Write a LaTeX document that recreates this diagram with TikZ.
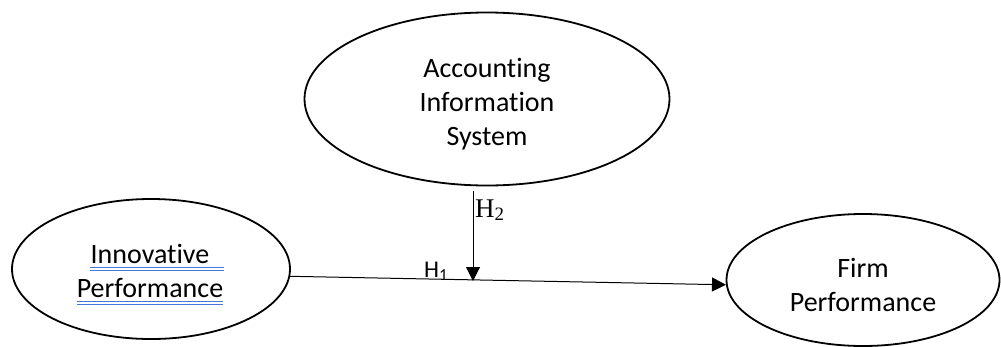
\documentclass[tikz,border=0pt]{standalone}
\usepackage{fontspec}
\setmainfont[RawFeature={-liga;-dlig;-clig}]{Carlito}
\newfontfamily\serifH{Liberation Serif}
\usetikzlibrary{shapes.geometric,arrows.meta}
\definecolor{ulblue}{RGB}{70,120,220}
\newcommand\dn{\rule{0pt}{30pt}}
\tikzset{
  construct/.style={ellipse, draw=black, line width=1.8pt, inner sep=0pt, align=center,
    font=\fontsize{28pt}{34pt}\selectfont},
  word/.style={inner sep=0pt, anchor=base, font=\fontsize{28pt}{34pt}\selectfont},
  uline/.style={draw=ulblue, line width=1pt},
  arr/.style={line width=1pt, -{Triangle[length=14pt,width=14pt]}},
  hlab/.style={inner sep=0pt, anchor=base west}
}
\begin{document}
\begin{tikzpicture}[x=1pt,y=1pt]
\useasboundingbox (0,0) rectangle (1001,-346);
\node[construct, minimum width=278pt, minimum height=140pt] (inn) at (151,-269) {};
\node[word] (w1) at (150,-263) {Innovative};
\node[word] (w2) at (150,-297) {Performance};
\draw[uline] ([yshift=-4.5pt]w1.base west) -- ([xshift=14pt,yshift=-4.5pt]w1.base east);
\draw[uline] ([yshift=-7pt]w1.base west) -- ([xshift=14pt,yshift=-7pt]w1.base east);
\draw[uline] ([yshift=-4.5pt]w2.base west) -- ([yshift=-4.5pt]w2.base east);
\draw[uline] ([yshift=-7pt]w2.base west) -- ([yshift=-7pt]w2.base east);
\node[construct, minimum width=365pt, minimum height=173pt] (ais) at (487,-99)
  {\dn Accounting\\Information\\System};
\node[construct, minimum width=273pt, minimum height=132pt] (firm) at (863,-280)
  {\dn Firm\\Performance};
\coordinate (m) at (473,-281);
\draw[arr] (inn.-3) -- (firm.182);
\draw[arr] ([xshift=-14pt,yshift=-5pt]ais.south) -- (m);
\node[hlab, font=\fontsize{24pt}{28pt}\selectfont] (h1) at (424,-277) {H\textsubscript{1}};
\node[hlab, font=\serifH\fontsize{27pt}{30pt}\selectfont] (h2) at (475,-217) {H\textsubscript{2}};
\end{tikzpicture}
\end{document}
